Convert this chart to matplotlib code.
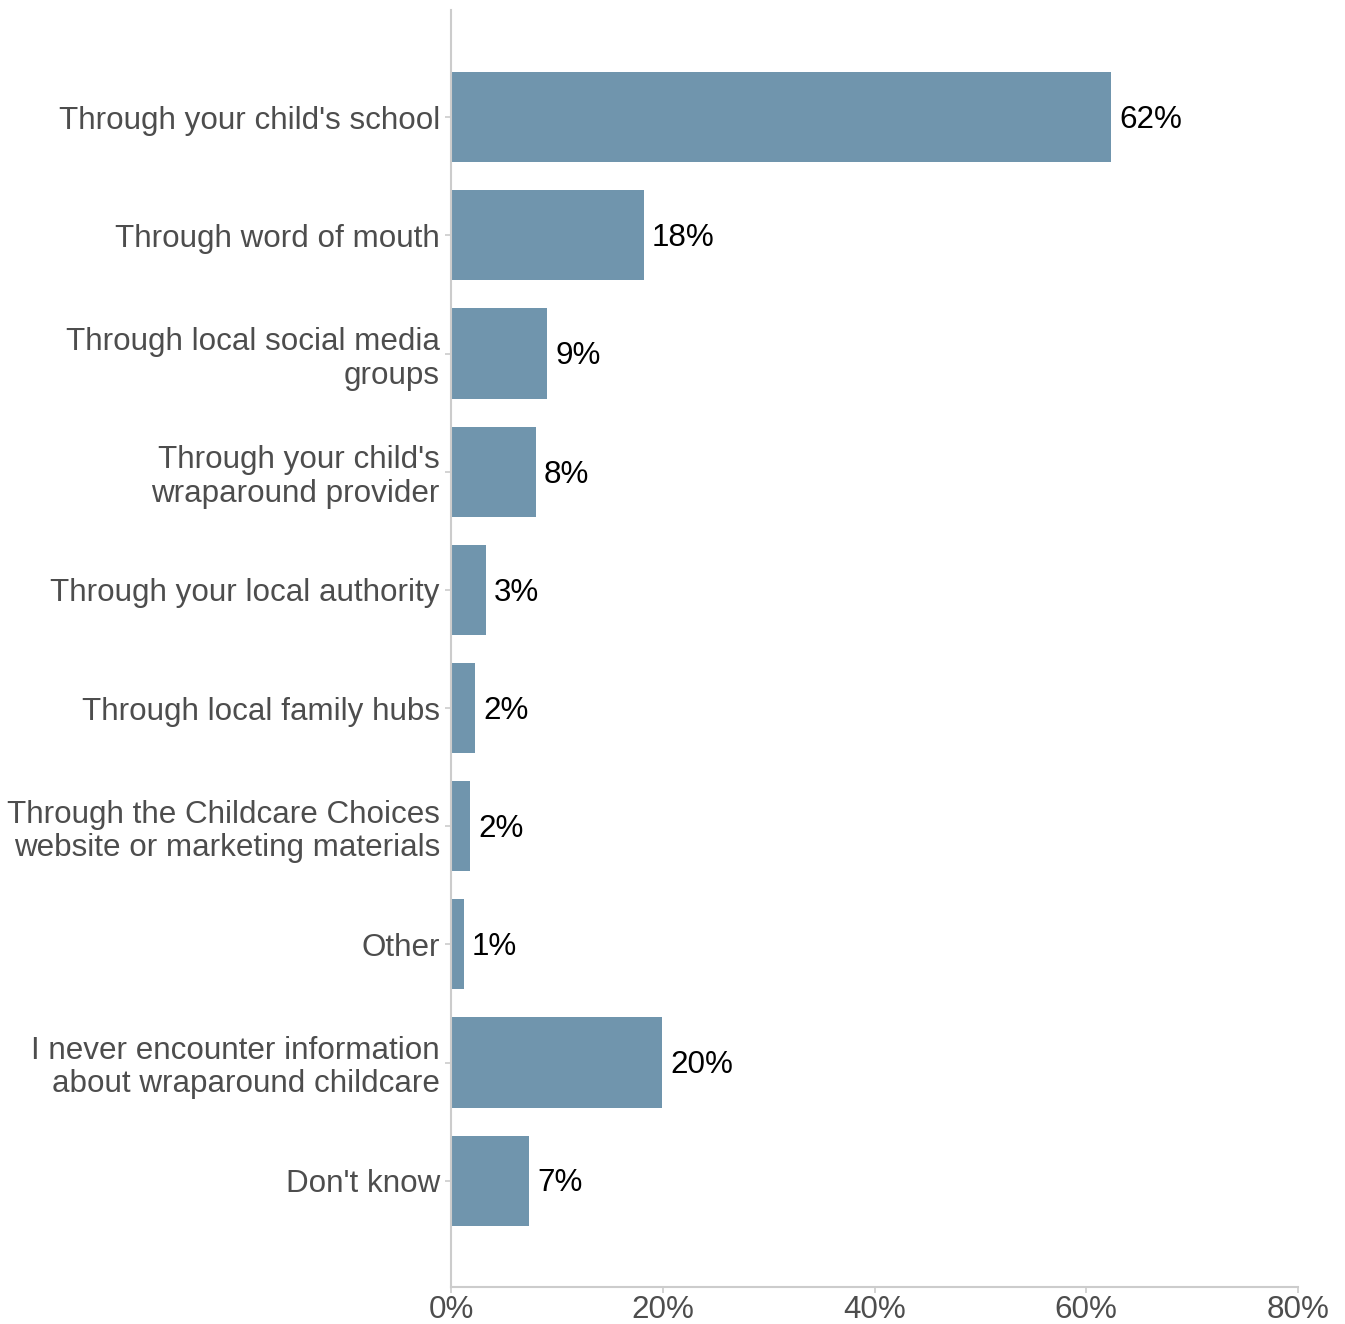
import matplotlib
matplotlib.use("Agg")
import matplotlib.pyplot as plt

categories = [
    "Through your child's school",
    "Through word of mouth",
    "Through local social media\ngroups",
    "Through your child's\nwraparound provider",
    "Through your local authority",
    "Through local family hubs",
    "Through the Childcare Choices\nwebsite or marketing materials",
    "Other",
    "I never encounter information\nabout wraparound childcare",
    "Don't know",
]
values = [62.3, 18.2, 9.1, 8.0, 3.3, 2.3, 1.8, 1.2, 19.9, 7.4]
x_ticks = [0, 20, 40, 60, 80]
x_tick_labels = ["0%", "20%", "40%", "60%", "80%"]

plt.rcParams["font.family"] = ["Liberation Sans", "DejaVu Sans"]

fig = plt.figure(figsize=(13.45, 13.24), dpi=100)
ax = fig.add_axes([0.3353, 0.0279, 0.9651 - 0.3353, 0.9924 - 0.0279])

bar_color = "#7095ad"
axis_color = "#cccccc"
label_color = "#4d4d4d"
fs = 22.6

pos = list(range(len(categories)))
ax.barh(pos, values, height=0.763, color=bar_color, zorder=2)

for p, v in zip(pos, values):
    ax.annotate(f"{v:.0f}%", xy=(v, p), xytext=(6, -2), textcoords="offset points",
                ha="left", va="center", fontsize=fs, color="black")

ax.set_yticks(pos)
ax.set_yticklabels(categories, fontsize=fs, color=label_color, linespacing=1.15)
ax.set_xticks(x_ticks)
ax.set_xticklabels(x_tick_labels, fontsize=fs, color=label_color)
ax.set_xlim(0, 80)
ax.set_ylim(9.9, -0.907)

for side in ["top", "right"]:
    ax.spines[side].set_visible(False)
for side in ["left", "bottom"]:
    ax.spines[side].set_color(axis_color)
    ax.spines[side].set_linewidth(1.5)
ax.tick_params(axis="both", colors=axis_color, length=4, width=1.2, pad=4)
ax.tick_params(axis="y", labelcolor=label_color)
ax.tick_params(axis="x", labelcolor=label_color, pad=2)

fig.savefig("out.png", dpi=100)
